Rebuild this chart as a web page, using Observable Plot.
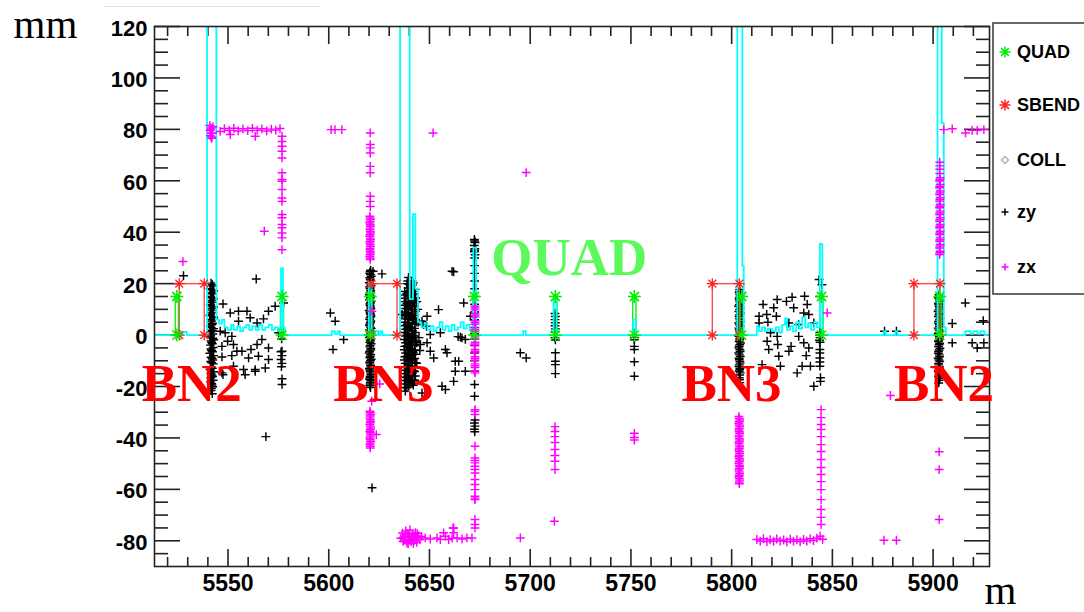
<!DOCTYPE html>
<html><head><meta charset="utf-8">
<script src="https://cdn.jsdelivr.net/npm/d3@7"></script>
<script src="https://cdn.jsdelivr.net/npm/@observablehq/plot@0.6"></script>
<style>
html,body{margin:0;padding:0;background:#fff;}
#wrap{position:relative;width:1084px;height:612px;overflow:hidden;background:#fff;}
#wrap svg{display:block;}
#topline{position:absolute;left:103px;top:6px;width:218px;height:1px;background:#e4e4e4;}
</style></head><body><div id="wrap"><div id="topline"></div></div>
<script>
// ---------- data ----------
const xTicks = [5550, 5600, 5650, 5700, 5750, 5800, 5850, 5900];
const xMinor = [5520, 5530, 5540, 5560, 5570, 5580, 5590, 5610, 5620, 5630, 5640, 5660, 5670, 5680, 5690, 5710, 5720, 5730, 5740, 5760, 5770, 5780, 5790, 5810, 5820, 5830, 5840, 5860, 5870, 5880, 5890, 5910, 5920];
const yTicks = [-80, -60, -40, -20, 0, 20, 40, 60, 80, 100, 120];
const yMinor = [-85, -75, -70, -65, -55, -50, -45, -35, -30, -25, -15, -10, -5, 5, 10, 15, 25, 30, 35, 45, 50, 55, 65, 70, 75, 85, 90, 95, 105, 110, 115];

const quadPos = [5524.6, 5576.8, 5620.6, 5672.3, 5712.5, 5751.7, 5805.0, 5844.6, 5903.3];
const quadHeight = 15;
const sbendStart = [5525.8, 5621.1, 5790.4, 5890.5];
const sbendEnd = [5538.2, 5633.9, 5803.8, 5903.4];
const sbendHeight = 20;

// cyan step trace (mm held until next position)
const cyanM = [5513.5, 5527.5, 5529.5, 5539.6, 5544.2, 5545.5, 5547, 5548.2, 5550, 5551.5, 5552.8, 5554.5, 5556, 5557.5, 5559, 5560.5, 5562, 5563.8, 5565.3, 5567, 5568.5, 5570.2, 5571.8, 5573.2, 5574.8, 5576.3, 5577.3, 5578.2,
  5601.5, 5603, 5604.5, 5605.5, 5619.9, 5621.2, 5623, 5624.5, 5625.5, 5626.5,
  5635.4, 5640.2, 5641.8, 5643, 5644.3, 5646, 5647.5, 5649, 5650.5, 5652, 5653.5, 5655, 5656.5, 5658, 5659.5, 5661, 5662.5, 5664, 5665.5, 5667, 5668.5, 5670, 5671.8, 5673.2,
  5696.5, 5697.8, 5711.6, 5713.0, 5751.1, 5752.4,
  5802.8, 5805.3, 5806, 5812.5, 5813.5, 5815, 5816.5, 5818, 5820, 5822, 5823.5, 5825, 5826.5, 5827.5, 5829, 5830.5, 5832, 5833.5, 5835, 5836.5, 5838, 5839.5, 5841, 5842.3, 5843.8, 5845,
  5875.5, 5876.5, 5881.3, 5882.3, 5902.2, 5904.3, 5905.3, 5906.3, 5916, 5918.5, 5920, 5922, 5923.5, 5925.5, 5928];
const cyanMM = [0, 1.2, 0, 200, 6, 4.5, 6, 3, 2, 4, 2, 3.5, 1.5, 3, 4, 2, 3.5, 2, 4, 2, 3, 4, 2, 3, 1.5, 26, 3, 0,
  1.5, 0.5, 1.5, 0, 20.5, 0, 1.5, 0, 1.5, 0,
  200, 14, 47, 18, 5, 3, 4.5, 2, 3.5, 1.5, 3, 5, 2, 3.5, 1.5, 4, 2, 3, 5, 2.5, 4, 2, 34, 0,
  1.5, 0, 13.4, 0, 6, 0,
  200, 27, 0, 3.5, 1.5, 3, 1.5, 2.5, 1.5, 3, 1, 4, 6.5, 2, 3.5, 1.5, 5, 2.5, 7, 3, 4.5, 2, 5, 3, 35.5, 0,
  1.5, 0, 1.5, 0, 200, 82.5, 3, 0, 1.5, 0.5, 1.5, 0.5, 1.5, 0, 0];

// zy points [m, mm]
const zyPts = [
  // column near 5542
  [5541.6,20.2],[5542.5,19.1],[5541.1,18.0],[5542.9,17.2],[5541.9,16.1],[5541.3,15.0],[5542.7,14.0],[5542.0,12.8],[5541.2,11.9],[5542.8,10.9],[5541.7,9.7],[5542.4,8.8],[5541.0,7.6],[5542.9,6.7],[5541.8,5.5],[5542.3,4.6],[5541.2,3.4],[5542.8,2.5],[5541.6,1.3],[5542.5,0.4],[5541.1,-0.7],[5542.9,-1.8],[5541.9,-2.9],[5541.3,-3.9],[5542.6,-4.8],[5541.8,-6.0],[5541.0,-7.1],[5542.8,-8.0],[5542.1,-9.1],[5541.4,-10.3],[5542.7,-11.2],[5541.7,-12.4],[5541.1,-13.4],[5542.9,-14.3],[5542.0,-15.5],[5541.5,-16.6],[5542.6,-17.6],[5541.9,-18.8],[5542.4,-20.1],[5541.6,-21.6],[5542.2,-22.8],
  [5542.2,19.6],[5541.4,17.6],[5542.4,16.6],[5541.6,14.5],[5542.1,13.4],[5541.5,11.3],[5542.3,10.3],[5541.3,8.2],[5542.6,7.1],[5541.5,6.1],[5542.0,4.0],[5541.7,2.9],[5542.1,1.9],[5541.4,-0.2],[5542.4,-1.2],[5541.6,-2.3],[5542.2,-3.4],[5541.5,-5.4],[5542.3,-6.5],[5541.6,-8.6],[5542.4,-9.7],[5541.9,-10.8],[5542.2,-12.9],[5541.5,-14.9],[5542.3,-16.1],[5541.3,-18.2],[5542.0,-19.4],[5541.8,-20.8],
  // scatter 5525-5580
  [5527.9,23.1],[5564.0,21.8],[5547.5,12.1],[5551.1,8.6],[5555.2,9.3],[5559.4,9.3],[5561.0,6.7],[5567.6,6.3],[5570.1,9.3],[5573.4,11.2],[5555.2,5.4],[5564.4,4.7],[5551.9,-0.5],[5549.8,-2.4],[5547.0,-4.4],[5552.7,-3.7],[5554.4,-6.3],[5556.9,-6.3],[5561.4,-5.6],[5564.4,-3.7],[5566.8,-1.7],[5570.1,-5.0],[5551.9,-8.0],[5547.0,-8.5],[5560.2,-8.9],[5565.1,-8.2],[5570.1,-9.5],[5568.5,-12.8],[5557.7,-13.4],[5563.5,-13.4],[5552.7,-12.1],[5547.5,-15.4],[5558.5,-15.4],[5563.5,-14.1],[5547.0,-14.7],[5546.1,1.5],[5548.6,0.9],[5568.8,-39.5],
  [5575.1,0.9],[5576.8,-6.3],[5576.3,-6.5],[5576.8,-8.0],[5576.3,-9.5],[5576.8,-11.0],[5576.5,-12.3],[5576.8,-17.0],[5576.8,-19.2],[5577.6,12.5],[5576.6,-1.5],
  // 5600-5610
  [5600.8,8.6],[5603.2,5.4],[5607.4,-1.7],[5602.1,-5.6],
  // column near 5620.6
  [5620.8,25.2],[5620.3,24.0],[5621.1,22.9],[5620.6,21.7],[5620.1,20.4],[5621.0,19.3],[5620.5,18.1],[5620.9,16.8],[5620.2,15.7],[5620.7,14.5],[5621.1,13.2],[5620.4,12.1],[5620.8,10.9],[5620.1,9.6],[5620.6,8.5],[5621.0,7.3],[5620.3,6.1],[5620.7,4.9],[5620.2,3.7],[5621.1,2.6],[5620.5,1.4],[5620.9,0.2],[5620.2,-1.0],[5620.7,-2.2],[5621.0,-3.4],[5620.4,-4.6],[5620.8,-5.8],[5620.1,-7.0],[5620.6,-8.2],[5621.1,-9.4],[5620.3,-10.6],[5620.8,-11.8],[5620.2,-13.0],[5620.6,-14.2],[5621.0,-15.4],[5620.4,-16.6],[5620.9,-17.8],[5620.5,-19.0],[5620.7,-20.4],
  [5620.5,24.6],[5620.7,23.5],[5620.4,22.3],[5620.9,21.1],[5620.6,19.9],[5620.3,18.7],[5620.8,17.4],[5620.5,16.2],[5620.9,15.1],[5620.3,13.8],[5620.7,12.6],[5620.5,11.5],[5620.9,10.2],[5620.4,9.0],[5620.8,7.9],[5620.5,6.7],[5620.9,5.5],[5620.4,4.3],[5620.7,3.1],[5620.3,2.0],[5620.8,0.8],[5620.5,-0.4],[5620.9,-1.6],[5620.4,-2.8],[5620.6,-4.0],[5620.9,-5.2],[5620.3,-6.4],[5620.8,-7.6],[5620.4,-8.8],[5620.7,-10.0],[5620.5,-11.2],[5620.9,-12.4],[5620.4,-13.6],[5620.8,-14.8],[5620.6,-16.0],[5620.3,-17.2],[5620.7,-18.4],[5620.4,-19.7],
  [5622.0,24.8],[5626.4,23.8],[5621.5,-59.4],
  // big cluster 5637-5643
  [5637.7,17.0],[5638.1,15.6],[5637.5,14.3],[5638.0,13.0],[5637.6,11.6],[5638.2,10.3],[5637.7,9.0],[5637.5,7.6],[5638.1,6.3],[5637.8,5.0],[5637.5,3.6],[5638.2,2.3],[5637.6,1.0],[5638.0,-0.4],[5637.5,-1.7],[5638.1,-3.0],[5637.7,-4.4],[5637.5,-5.7],[5638.2,-7.0],[5637.8,-8.4],[5637.5,-9.7],[5638.0,-11.0],[5637.6,-12.4],[5638.2,-13.7],[5637.7,-15.0],[5637.5,-16.4],[5638.1,-17.7],[5637.8,-19.0],[5637.6,-20.4],[5638.0,-21.8],
  [5639.6,22.4],[5639.2,21.0],[5639.9,19.7],[5639.4,18.3],[5639.8,17.0],[5639.3,15.6],[5639.7,14.2],[5639.5,12.9],[5639.9,11.5],[5639.2,10.2],[5639.7,8.8],[5639.4,7.4],[5639.9,6.1],[5639.3,4.7],[5639.6,3.4],[5639.8,2.0],[5639.2,0.6],[5639.7,-0.7],[5639.4,-2.1],[5639.9,-3.4],[5639.3,-4.8],[5639.6,-6.2],[5639.8,-7.5],[5639.2,-8.9],[5639.7,-10.2],[5639.4,-11.6],[5639.9,-13.0],[5639.3,-14.3],[5639.6,-15.7],[5639.8,-17.0],[5639.4,-18.4],[5639.7,-19.8],
  [5641.3,21.0],[5641.6,19.6],[5641.1,18.2],[5641.5,16.9],[5641.2,15.5],[5641.7,14.1],[5641.3,12.7],[5641.6,11.4],[5641.1,10.0],[5641.5,8.6],[5641.2,7.2],[5641.7,5.9],[5641.4,4.5],[5641.1,3.1],[5641.6,1.7],[5641.3,0.4],[5641.7,-1.0],[5641.2,-2.4],[5641.5,-3.8],[5641.1,-5.1],[5641.6,-6.5],[5641.3,-7.9],[5641.7,-9.3],[5641.2,-10.6],[5641.5,-12.0],[5641.1,-13.4],[5641.6,-14.8],[5641.3,-16.1],[5641.7,-17.5],[5641.4,-18.9],
  [5642.9,17.7],[5642.6,16.0],[5643.1,14.4],[5642.8,12.7],[5642.6,11.0],[5643.0,9.3],[5642.7,7.7],[5643.1,6.0],[5642.8,4.3],[5642.6,2.6],[5643.0,1.0],[5642.7,-0.7],[5643.1,-2.4],[5642.8,-4.1],[5642.6,-5.8],[5643.0,-7.5],[5642.7,-9.1],[5643.1,-10.8],[5642.8,-12.5],[5642.6,-14.2],[5643.0,-15.9],[5642.7,-17.6],
  [5638.8,20.0],[5640.5,19.0],[5638.8,16.3],[5640.5,15.3],[5638.8,12.2],[5640.5,11.0],[5638.8,8.1],[5640.5,7.0],[5638.8,4.0],[5640.5,2.8],[5638.8,-0.1],[5640.5,-1.4],[5638.8,-4.1],[5640.5,-5.5],[5638.8,-8.2],[5640.5,-9.7],[5638.8,-12.3],[5640.5,-13.8],[5638.8,-16.4],[5640.5,-17.9],[5638.8,-20.5],[5642.0,20.3],[5642.0,13.4],[5642.0,6.6],[5642.0,-0.2],[5642.0,-7.0],[5642.0,-13.8],[5642.0,-19.5],[5643.7,13.0],[5643.7,5.0],[5643.7,-3.0],[5643.7,-11.0],
  [5644.5,5.0],[5644.8,-1.0],[5645.2,-6.0],[5644.2,10.0],[5636.4,8.0],[5646.3,5.4],[5648.5,3.4],
  // scatter 5645-5672
  [5662.0,24.6],[5661.2,24.8],[5654.5,9.9],[5667.0,12.5],[5670.3,7.3],[5648.8,7.3],[5647.1,4.1],[5650.4,0.2],[5655.4,0.9],[5666.1,-1.1],[5667.8,-1.7],[5664.2,-0.6],[5665.3,-0.8],[5648.8,-3.0],[5658.7,-6.9],[5657.9,-5.6],[5662.8,-10.2],[5664.5,-10.2],[5667.8,-14.1],[5662.8,-14.1],[5662.0,-18.0],[5656.2,-19.9],[5657.9,-21.2],[5646.3,-22.5],[5645.5,-3.7],[5650.4,-6.3],[5652.1,-8.9],
  // column near 5672.4
  [5672.3,37.2],[5672.6,36.0],[5672.2,34.8],[5672.5,33.6],[5672.3,32.4],[5672.6,31.2],[5672.4,30.0],[5672.4,36.6],[5672.4,33.0],[5672.4,27],[5672.4,24],[5672.4,21],[5672.4,18],[5672.4,15],[5672.4,12],[5672.4,9],[5672.4,6],[5672.4,3],[5672.4,0.5],[5672.4,-1.5],[5672.4,-4],[5672.4,-7],[5672.4,-10],[5672.4,-14],[5672.4,-19.2],[5672.4,-23.8],[5672.6,-33.0],[5672.3,-34.2],[5672.6,-35.4],[5672.3,-36.6],[5672.5,-37.6],
  [5695.1,-6.9],[5698.0,-8.9],
  // 5712 and 5752
  [5712.3,8.4],[5712.5,7.2],[5712.3,6.0],[5712.5,4.8],[5712.3,3.6],[5712.5,2.4],[5712.3,1.2],[5712.5,0],[5712.3,-1.0],[5712.5,-1.9],[5712.5,-6.9],[5712.5,-10.2],[5712.5,-11.5],[5712.5,-15.0],
  [5751.7,-0.9],[5751.7,-1.8],[5751.7,-4.4],[5751.7,-5.6],[5751.7,-10.4],[5751.7,-16.0],
  // column near 5804
  [5804.0,17.7],[5803.6,16.4],[5804.3,15.1],[5803.8,13.8],[5804.2,12.5],[5803.5,11.2],[5804.0,9.9],[5804.4,8.6],[5803.7,7.3],[5804.1,6.0],[5803.5,4.7],[5804.3,3.4],[5803.8,2.1],[5804.2,0.8],[5803.6,-0.5],[5804.0,-1.8],[5804.4,-3.1],[5803.7,-4.4],[5804.1,-5.7],[5803.5,-7.0],[5804.3,-8.3],[5803.8,-9.6],[5804.2,-10.9],[5803.6,-12.2],[5804.0,-13.5],[5804.3,-14.7],[5803.8,-16.6],[5804.1,-18.5],
  [5803.9,17.0],[5804.1,15.7],[5803.7,14.4],[5804.0,13.1],[5803.8,11.8],[5804.2,10.5],[5803.6,9.2],[5804.0,7.9],[5803.8,6.6],[5804.2,5.3],[5803.9,4.0],[5803.6,2.7],[5804.1,1.4],[5803.9,0.1],[5804.2,-1.2],[5803.7,-2.5],[5804.0,-3.8],[5803.6,-5.0],[5804.2,-6.4],[5803.9,-7.7],[5803.7,-9.0],[5804.1,-10.3],[5803.8,-11.6],[5804.1,-12.9],[5803.7,-14.1],[5804.0,-15.5],[5803.9,-17.4],
  // scatter 5812-5845
  [5815.6,11.9],[5820.9,10.6],[5822.6,13.8],[5827.2,13.1],[5830.0,14.7],[5836.2,15.1],[5837.5,11.9],[5830.8,10.6],[5813.6,7.3],[5817.4,8.0],[5822.2,7.3],[5828.4,4.7],[5835.8,8.6],[5838.3,8.0],[5833.3,4.1],[5840.8,4.7],[5813.6,4.7],[5818.0,5.0],[5819.3,0.9],[5822.6,-0.5],[5817.6,-2.4],[5822.9,-3.7],[5829.5,-4.4],[5828.4,-6.3],[5818.4,-5.6],[5835.8,-3.0],[5838.3,-5.0],[5833.3,-0.5],[5823.4,-8.2],[5815.1,-11.5],[5824.2,-12.1],[5832.5,-14.7],[5835.0,-12.1],[5839.1,-12.1],[5837.0,-8.0],[5840.8,-19.9],
  // column near 5843.7
  [5843.4,21.6],[5844.8,19.6],[5843.8,15.0],[5843.8,1.0],[5843.6,0],[5843.9,-1.0],[5843.6,-2.0],[5843.9,-2.8],[5843.8,-5.6],[5843.8,-7.0],[5843.8,-8.9],[5843.8,-10.5],[5843.8,-12.1],[5844.1,-16.6],[5844.1,-18.0],
  [5875.9,1.5],[5881.8,1.5],
  // column near 5903
  [5903.0,15.7],[5902.6,14.4],[5903.3,13.1],[5902.8,11.8],[5903.2,10.5],[5902.5,9.2],[5903.0,7.9],[5903.4,6.6],[5902.7,5.3],[5903.1,4.0],[5902.5,2.7],[5903.3,1.4],[5902.8,0.1],[5903.2,-1.2],[5902.6,-2.5],[5903.0,-3.8],[5903.4,-5.1],[5902.7,-6.4],[5903.1,-7.7],[5902.5,-9.0],[5903.3,-10.3],[5902.8,-11.6],[5903.2,-12.9],[5902.6,-14.2],[5903.0,-15.5],[5903.3,-16.8],[5902.8,-18.6],
  [5902.9,15.0],[5903.2,13.7],[5902.7,12.4],[5903.0,11.1],[5902.8,9.8],[5903.2,8.5],[5902.6,7.2],[5903.0,5.9],[5902.8,4.6],[5903.2,3.3],[5902.9,2.0],[5902.6,0.7],[5903.1,-0.6],[5902.9,-1.9],[5903.2,-3.2],[5902.7,-4.5],[5903.0,-5.8],[5902.6,-7.1],[5903.2,-8.4],[5902.9,-9.7],[5902.7,-11.0],[5903.1,-12.3],[5902.8,-13.6],[5903.1,-14.9],[5902.7,-16.2],[5903.0,-17.6],
  [5916.0,12.5],[5909.5,4.5],[5924.9,5.6],[5919.4,-3.0],[5921.9,-5.0],[5925.2,-3.0],[5909.5,-3.0]
];

// zx points [m, mm]
const zxPts = [
  [5541.0,81.5],[5541.6,80.5],[5541.1,79.5],[5541.7,78.5],[5541.2,77.5],[5541.8,76.5],[5541.3,80.0],[5542.5,81.0],[5542.3,78.5],[5542.0,77.0],
  [5546.1,79.2],[5548.2,80.3],[5550.6,79.6],[5552.9,80.4],[5555.1,79.4],[5557.4,80.2],[5559.8,79.5],[5562.1,80.4],[5564.5,79.6],[5566.8,80.2],[5569.2,79.4],[5571.5,80.1],[5573.7,79.7],[5575.8,80.3],[5563.5,77.3],[5551.1,78.0],
  [5576.8,77.3],[5576.8,75.3],[5576.8,73.4],[5576.8,71.5],[5576.8,68.9],[5576.8,63.1],[5576.8,60.5],[5576.8,59.8],[5576.8,56.6],[5576.8,53.3],[5576.8,52.0],[5576.8,46.9],[5576.8,45.6],[5576.8,43.0],[5576.8,41.7],[5576.8,39.7],[5576.8,37.8],[5576.8,33.2],[5568.0,40.4],[5527.6,28.6],
  [5601.2,79.9],[5603.1,79.9],[5606.5,79.9],[5651.8,78.6],[5698.0,63.2],
  [5620.6,78.6],[5620.6,74.1],[5620.6,72.8],[5620.6,70.8],[5620.6,65.6],[5620.6,63.1],[5620.6,54.0],[5620.6,52.0],[5620.6,50.0],
  [5620.4,46.2],[5620.7,44.9],[5620.4,43.6],[5620.7,42.3],[5620.4,41.0],[5620.7,39.7],[5620.4,38.4],[5620.7,37.1],[5620.4,35.8],[5620.7,34.5],[5620.4,33.2],[5620.7,31.9],[5620.4,30.6],[5620.6,29.4],
  [5620.6,45.5],[5620.5,44.2],[5620.6,42.9],[5620.5,41.6],[5620.6,40.3],[5620.5,39.0],[5620.6,37.7],[5620.5,36.4],[5620.6,35.1],[5620.5,33.8],[5620.6,32.5],[5620.5,31.2],[5620.6,30.0],
  [5621.4,9.3],[5625.3,-19.0],[5621.3,-25.7],
  [5620.4,-29.6],[5620.8,-30.9],[5620.4,-32.2],[5620.8,-33.5],[5620.4,-34.8],[5620.8,-36.1],[5620.4,-37.4],[5620.8,-38.7],[5620.4,-40.0],[5620.8,-41.3],[5620.4,-42.6],[5620.6,-43.9],[5623.6,-38.7],
  [5620.6,-30.2],[5620.6,-31.5],[5620.6,-32.8],[5620.6,-34.1],[5620.6,-35.4],[5620.6,-36.8],[5620.6,-38.0],[5620.6,-39.3],[5620.6,-40.6],[5620.6,-42.0],[5620.6,-43.2],
  [5636.6,-77.0],[5637.4,-79.5],[5638.2,-76.2],[5638.8,-80.8],[5639.6,-78.2],[5640.3,-75.8],[5640.9,-80.3],[5641.7,-77.6],[5642.4,-79.9],[5643.1,-76.8],[5643.7,-80.6],[5636.9,-80.2],[5638.0,-78.4],[5641.2,-78.9],[5642.8,-78.1],[5639.4,-81.2],[5644.3,-78.6],[5645.2,-79.5],[5646.1,-78.3],
  [5637.1,-78.6],[5639.0,-77.3],[5640.0,-79.6],[5642.0,-81.0],[5644.0,-77.2],[5635.8,-79.0],
  [5647.9,-78.9],[5650.4,-79.3],[5653.7,-78.9],[5655.4,-79.5],[5657.0,-76.9],[5657.9,-78.2],[5659.5,-79.5],[5661.2,-79.0],[5662.0,-75.0],[5662.0,-76.9],[5663.7,-78.9],[5666.2,-79.3],[5668.6,-78.9],[5671.1,-78.9],[5661.7,-75.0],
  [5672.6,11.2],[5672.6,9.8],[5672.6,8.4],[5672.6,7.0],[5672.6,5.6],[5672.6,4.2],[5672.6,2.8],[5672.6,1.4],[5672.6,0],[5672.6,-1.4],[5672.6,-2.8],[5672.6,-4.2],[5672.6,-5.6],[5672.6,-7.0],[5672.6,-8.4],[5672.6,-9.8],[5672.6,-11.2],[5672.6,-12.6],[5672.6,-14.0],
  [5672.6,10.5],[5672.6,7.7],[5672.6,4.9],[5672.6,2.1],[5672.6,-0.7],[5672.6,-3.5],[5672.6,-6.3],[5672.6,-9.1],[5672.6,-11.9],[5672.6,-14.7],
  [5672.6,-29.0],[5672.6,-29.6],[5672.6,-30.9],[5672.6,-43.2],[5672.6,-47.8],[5672.6,-48.8],[5672.6,-49.7],[5672.6,-51.0],[5672.6,-52.3],[5672.6,-53.6],[5672.6,-56.2],[5672.6,-58.1],[5672.6,-60.1],[5672.6,-62.7],[5672.6,-63.4],[5672.6,-64.0],[5672.6,-71.7],[5672.6,-73.7],[5672.6,-75.0],
  [5695.1,-78.9],[5712.0,-72.4],
  [5712.3,-35.6],[5712.3,-37.5],[5712.3,-39.5],[5712.3,-41.8],[5712.3,-44.5],[5712.3,-46.8],[5712.3,-49.1],[5712.3,-52.3],
  [5751.7,-38.2],[5751.7,-39.8],[5751.7,-40.8],
  [5803.6,-31.7],[5804.0,-33.0],[5803.6,-34.3],[5804.0,-35.6],[5803.6,-36.9],[5804.0,-38.2],[5803.6,-39.5],[5804.0,-40.8],[5803.6,-42.1],[5804.0,-43.4],[5803.6,-44.7],[5804.0,-46.0],[5803.6,-47.3],[5804.0,-48.6],[5803.6,-49.9],[5804.0,-51.2],[5803.6,-52.5],[5804.0,-53.8],[5803.6,-55.1],[5804.0,-56.4],[5803.8,-57.8],
  [5803.8,-32.4],[5803.8,-33.7],[5803.8,-35.0],[5803.8,-36.3],[5803.8,-37.6],[5803.8,-38.9],[5803.8,-40.2],[5803.8,-41.5],[5803.8,-42.8],[5803.8,-44.1],[5803.8,-45.4],[5803.8,-46.7],[5803.8,-48.0],[5803.8,-49.3],[5803.8,-50.6],[5803.8,-51.9],[5803.8,-53.2],[5803.8,-54.5],[5803.8,-55.8],[5803.8,-57.1],
  [5844.4,-29.0],[5844.4,-32.1],[5844.4,-34.8],[5844.4,-36.7],[5844.4,-39.5],[5844.4,-42.6],[5844.4,-45.3],[5844.4,-48.4],[5844.4,-51.5],[5844.4,-54.2],[5844.4,-57.0],[5844.4,-60.1],[5844.4,-64.0],[5844.4,-67.8],[5844.4,-70.9],[5844.4,-73.7],[5847.4,8.6],
  [5812.5,-79.5],[5814.2,-80.1],[5815.8,-79.2],[5817.5,-80.3],[5819.1,-79.6],[5820.8,-80.2],[5822.4,-79.3],[5824.1,-80.1],[5825.8,-79.7],[5827.4,-80.4],[5829.1,-79.4],[5830.7,-80.2],[5832.4,-79.6],[5834.0,-80.3],[5835.7,-79.5],[5837.3,-80.1],[5839.0,-79.2],[5840.6,-79.9],[5842.3,-79.0],[5843.9,-78.2],[5845.2,-79.4],
  [5875.6,-79.8],[5881.8,-79.8],[5878.8,-23.5],
  [5903.2,31.3],[5903.5,32.6],[5903.2,33.9],[5903.5,35.2],[5903.2,36.5],[5903.5,37.8],[5903.2,39.1],[5903.5,40.4],[5903.2,41.7],[5903.5,43.0],[5903.2,44.3],[5903.5,45.6],[5903.2,46.9],[5903.5,48.2],[5903.2,49.5],[5903.5,50.8],[5903.2,52.1],[5903.5,53.4],[5903.2,54.7],[5903.5,56.0],[5903.2,57.3],[5903.5,58.6],[5903.2,59.9],[5903.5,61.2],[5903.3,62.8],[5903.3,64.5],[5903.3,65.8],[5903.3,67.2],
  [5903.35,32.0],[5903.35,34.6],[5903.35,37.1],[5903.35,39.7],[5903.35,42.3],[5903.35,44.9],[5903.35,47.5],[5903.35,50.1],[5903.35,52.7],[5903.35,55.3],[5903.35,57.9],[5903.35,60.5],
  [5903.0,-45.4],[5903.0,-52.3],[5903.0,-71.7],
  [5905.3,79.9],[5909.5,80.2],[5916.1,78.6],[5919.4,79.6],[5921.9,79.6],[5925.2,79.9]
];

const bnText = ["BN2", "BN3", "BN3", "BN2"];
const bnM = [5532.0, 5627.1, 5799.9, 5905.4];
const bnMM = [-25.5, -25.5, -25.5, -25.5];
const quadText = ["QUAD"];
const quadTextM = [5719.4];
const quadTextMM = [23.5];

const legendNames = ["QUAD", "SBEND", "COLL", "zy", "zx"];
const legendColors = ["#00ee00", "#ff2020", "#b8b0a8", "#000000", "#ff00ff"];

// ---------- symbols ----------
const plusSym = {draw(ctx, size) { const r = Math.sqrt(size / Math.PI); ctx.moveTo(-r, 0); ctx.lineTo(r, 0); ctx.moveTo(0, -r); ctx.lineTo(0, r); }};
const starSym = {draw(ctx, size) { const r = Math.sqrt(size / Math.PI); const d = r * Math.SQRT1_2;
  ctx.moveTo(-r, 0); ctx.lineTo(r, 0); ctx.moveTo(0, -r); ctx.lineTo(0, r);
  ctx.moveTo(-d, -d); ctx.lineTo(d, d); ctx.moveTo(-d, d); ctx.lineTo(d, -d); }};

const cyanData = cyanM.map((m, i) => ({m, mm: cyanMM[i]}));
const bnData = bnText.map((t, i) => ({t, m: bnM[i], mm: bnMM[i]}));
const quadTextData = quadText.map((t, i) => ({t, m: quadTextM[i], mm: quadTextMM[i]}));
const sbendData = sbendStart.map((s, i) => ({s, e: sbendEnd[i]}));
const sbendEdges = sbendData.flatMap(d => [d.s, d.e]);
const sbendCorners = sbendData.flatMap(d => [[d.s, 0], [d.s, sbendHeight], [d.e, 0], [d.e, sbendHeight]]);

const axisCol = "#222";
const tickW = 1.6;
const serif = '"Liberation Serif", "Times New Roman", serif';

const chart = Plot.plot({
  width: 1084, height: 612,
  marginLeft: 154, marginRight: 95, marginTop: 26, marginBottom: 46,
  x: {domain: [5513.5, 5928]},
  y: {domain: [-90, 120]},
  style: {fontFamily: '"Liberation Sans", Arial, Helvetica, sans-serif', fontWeight: "bold", background: "white", color: "black"},
  marks: [
    // ticks (inside the frame, ROOT style)
    Plot.axisX({anchor: "bottom", ticks: xTicks, tickSize: -17, tickFormat: () => "", stroke: axisCol, strokeWidth: tickW, label: null}),
    Plot.axisX({anchor: "bottom", ticks: xMinor, tickSize: -9, tickFormat: () => "", stroke: axisCol, strokeWidth: tickW, label: null}),
    Plot.axisX({anchor: "top", ticks: xTicks, tickSize: -17, tickFormat: () => "", stroke: axisCol, strokeWidth: tickW, label: null}),
    Plot.axisX({anchor: "top", ticks: xMinor, tickSize: -9, tickFormat: () => "", stroke: axisCol, strokeWidth: tickW, label: null}),
    Plot.axisY({anchor: "left", ticks: yTicks, tickSize: -26, tickFormat: () => "", stroke: axisCol, strokeWidth: tickW, label: null}),
    Plot.axisY({anchor: "left", ticks: yMinor, tickSize: -14, tickFormat: () => "", stroke: axisCol, strokeWidth: tickW, label: null}),
    Plot.axisY({anchor: "right", ticks: yTicks, tickSize: -26, tickFormat: () => "", stroke: axisCol, strokeWidth: tickW, label: null}),
    Plot.axisY({anchor: "right", ticks: yMinor, tickSize: -14, tickFormat: () => "", stroke: axisCol, strokeWidth: tickW, label: null}),
    // tick labels
    Plot.axisX({anchor: "bottom", ticks: xTicks, tickSize: 0, tickPadding: 8, tickFormat: d => String(d), fontSize: 23, fill: "black", label: null}),
    Plot.axisY({anchor: "left", ticks: yTicks, tickSize: 0, tickPadding: 7, dy: 2, tickFormat: d => String(d), fontSize: 22, fill: "black", label: null}),
    // zy points
    Plot.dot(zyPts, {x: d => d[0], y: d => d[1], symbol: plusSym, r: 4.4, stroke: "black", strokeWidth: 1.45, fill: "none", clip: true}),
    // SBEND elements (top edge and two sides)
    Plot.ruleY(sbendData, {y: sbendHeight, x1: "s", x2: "e", stroke: "#ff4a4a", strokeWidth: 1.4}),
    Plot.ruleX(sbendEdges, {x: d => d, y1: 0, y2: sbendHeight, stroke: "#ff4a4a", strokeWidth: 1.4}),
    // QUAD element sides
    Plot.ruleX(quadPos, {y1: 0, y2: quadHeight, stroke: "#00ee00", strokeWidth: 1.3, dx: -1.6}),
    Plot.ruleX(quadPos, {y1: 0, y2: quadHeight, stroke: "#00ee00", strokeWidth: 1.3, dx: 1.6}),
    // cyan trace
    Plot.line(cyanData, {x: "m", y: "mm", curve: "step-after", stroke: "#00ffff", strokeWidth: 1.8, clip: true}),
    // zx points
    Plot.dot(zxPts, {x: d => d[0], y: d => d[1], symbol: plusSym, r: 4.4, stroke: "#ff00ff", strokeWidth: 1.45, fill: "none", clip: true}),
    // element markers
    Plot.dot(sbendCorners, {x: d => d[0], y: d => d[1], symbol: starSym, r: 5.5, stroke: "#ff2020", strokeWidth: 1.3, fill: "none"}),
    Plot.dot(quadPos, {x: d => d, y: quadHeight, symbol: starSym, r: 6.5, stroke: "#00ee00", strokeWidth: 1.6, fill: "none"}),
    Plot.dot(quadPos, {x: d => d, y: 0, symbol: starSym, r: 6.5, stroke: "#00ee00", strokeWidth: 1.4, fill: "none"}),
    // frame
    Plot.frame({stroke: axisCol, strokeWidth: 1.6}),
    // annotations
    Plot.text(quadTextData, {x: "m", y: "mm", text: "t", fill: "#5cf95c", fontSize: 53, fontWeight: "bold", fontFamily: serif, textAnchor: "middle", lineAnchor: "bottom"}),
    Plot.text(bnData, {x: "m", y: "mm", text: "t", fill: "#ff0000", fontSize: 53, fontWeight: "bold", fontFamily: serif, textAnchor: "middle", lineAnchor: "bottom"}),
    // axis titles
    Plot.text(["mm"], {text: d => d, frameAnchor: "top-left", dx: -141, dy: 11, textAnchor: "start", lineAnchor: "bottom", fontSize: 41, fontWeight: "normal", fontFamily: serif, fill: "black"}),
    Plot.text(["m"], {text: d => d, frameAnchor: "bottom-right", dx: -5, dy: 37, textAnchor: "start", lineAnchor: "bottom", fontSize: 41, fontWeight: "normal", fontFamily: serif, fill: "black"})
  ]
});
document.getElementById("wrap").appendChild(chart);

// ---------- legend (right side box) ----------
const ns = "http://www.w3.org/2000/svg";
const leg = document.createElementNS(ns, "svg");
leg.setAttribute("width", 100);
leg.setAttribute("height", 274);
leg.style.position = "absolute"; leg.style.left = "992px"; leg.style.top = "22px";
const box = document.createElementNS(ns, "rect");
box.setAttribute("x", 1); box.setAttribute("y", 1); box.setAttribute("width", 120); box.setAttribute("height", 271);
box.setAttribute("fill", "white"); box.setAttribute("stroke", "#444"); box.setAttribute("stroke-width", 1.6);
leg.appendChild(box);
const rowY = [30, 83, 138, 190, 245];
function pathFor(kind, cx, cy) {
  if (kind === "star") { const r = 5.5, d = r * Math.SQRT1_2; return `M${cx - r},${cy}H${cx + r}M${cx},${cy - r}V${cy + r}M${cx - d},${cy - d}L${cx + d},${cy + d}M${cx - d},${cy + d}L${cx + d},${cy - d}`; }
  if (kind === "diamond") { const r = 3.5; return `M${cx},${cy - r}L${cx + r},${cy}L${cx},${cy + r}L${cx - r},${cy}Z`; }
  const r = 3.5; return `M${cx - r},${cy}H${cx + r}M${cx},${cy - r}V${cy + r}`;
}
const kinds = ["star", "star", "diamond", "plus", "plus"];
legendNames.forEach((name, i) => {
  const p = document.createElementNS(ns, "path");
  p.setAttribute("d", pathFor(kinds[i], 13, rowY[i]));
  p.setAttribute("stroke", legendColors[i]); p.setAttribute("fill", "none"); p.setAttribute("stroke-width", 1.5);
  leg.appendChild(p);
  const t = document.createElementNS(ns, "text");
  t.setAttribute("x", 25); t.setAttribute("y", rowY[i]); t.setAttribute("dy", "0.36em");
  t.setAttribute("font-family", '"Liberation Sans", Arial, sans-serif'); t.setAttribute("font-weight", "bold");
  t.setAttribute("font-size", 18); t.setAttribute("fill", "black");
  t.textContent = name;
  leg.appendChild(t);
});
document.getElementById("wrap").appendChild(leg);
</script></body></html>
